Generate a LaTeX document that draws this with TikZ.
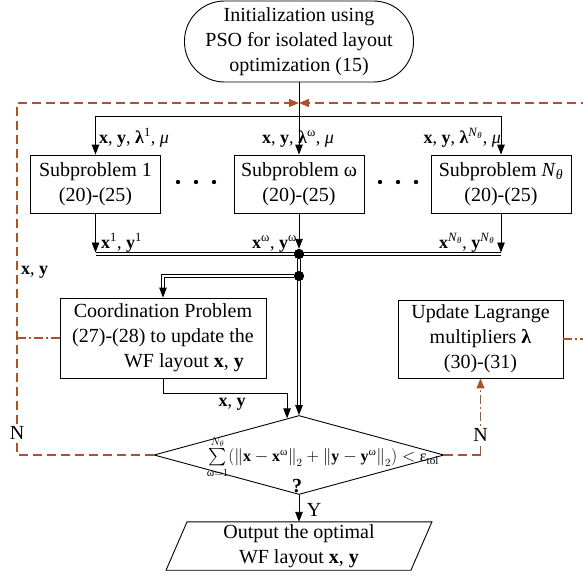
\documentclass[tikz,border=0pt]{standalone}
\usepackage{amsmath}
\usepackage{fontspec}
\setmainfont{Liberation Serif}
\setmathrm{Liberation Serif}
\usetikzlibrary{arrows.meta,calc,shapes.geometric}
\definecolor{brn}{RGB}{172,82,40}
\begin{document}
\begin{tikzpicture}[x=1pt,y=-1pt,
  every node/.style={font=\fontsize{20}{25}\selectfont},
  box/.style={draw,line width=0.9pt,inner sep=0pt,align=center},
  ln/.style={line width=0.9pt},
  arr/.style={line width=0.9pt,-{Triangle[length=10pt,width=7.5pt]}},
  dbl/.style={line width=0.9pt,double=white,double distance=2.4pt},
  brd/.style={color=brn,line width=1.3pt,dash pattern=on 9pt off 5pt},
  brdd/.style={color=brn,line width=1.3pt,dash pattern=on 9pt off 3pt on 2pt off 3pt},
  btip/.style={-{Triangle[length=10pt,width=8pt]}},
  lbl/.style={font=\fontsize{18}{20}\selectfont,inner sep=0pt},
  jdot/.style={circle,fill=black,minimum size=10pt,inner sep=0pt},
]
\useasboundingbox (0,0) rectangle (583,578);

% nodes
\node[box,rounded corners=40pt,minimum width=229pt,minimum height=81pt] (init) at (299,41.5)
  {Initialization using\\PSO for isolated layout\\optimization (15)};
\node[box,minimum width=130pt,minimum height=58pt] (sub1) at (95.5,184) {Subproblem 1\\(20)-(25)};
\node[box,minimum width=130pt,minimum height=58pt] (sub2) at (299,184) {Subproblem ω\\(20)-(25)};
\node[box,minimum width=140pt,minimum height=58pt] (sub3) at (501,184)
  {Subproblem \textit{N}\textsubscript{\textit{θ}}\\(20)-(25)};
\node[box,minimum width=206pt,minimum height=80pt] (coord) at (163,338)
  {Coordination Problem\\(27)-(28) to update the\\\hspace*{42pt}WF layout \textbf{x}, \textbf{y}};
\node[box,minimum width=165pt,minimum height=78pt] (upd) at (480.5,339)
  {Update Lagrange\\multipliers \textbf{λ}\\(30)-(31)};
\node[draw,diamond,line width=0.9pt,minimum width=290pt,minimum height=79pt,inner sep=0pt] (dec) at (299,455) {};
\node[inner sep=0pt,font=\fontsize{16}{18}\selectfont] (form) at (323,457)
  {$\sum\limits_{\text{ω}=1}^{N_\theta}\!\left(\left\|\mathbf{x}-\mathbf{x}^{\text{ω}}\right\|_2+\left\|\mathbf{y}-\mathbf{y}^{\text{ω}}\right\|_2\right)<\text{ε}_{\text{tol}}$};
\node[inner sep=0pt,font=\fontsize{20}{22}\selectfont\bfseries] (q) at (297,486) {?};
\node[inner sep=0pt,minimum width=244.5pt,minimum height=48pt,align=center] (out) at (299,546)
  {Output the optimal\\WF layout \textbf{x}, \textbf{y}};
\draw[ln] ($(out.north west)+(10.5,0)$) -- ($(out.north east)+(10.5,0)$)
  -- ($(out.south east)+(-10.5,0)$) -- ($(out.south west)+(-10.5,0)$) -- cycle;

% coordinates
\coordinate (tm) at (299,103);
\coordinate (lft) at (17,103);
\coordinate (rgt) at (592,103);
\coordinate (split) at (299,116);
\coordinate (bus) at (299,254);
\coordinate (dtl) at ($(dec.north)!0.082!(dec.west)$);

% brown feedback loops
\draw[brdd] (coord.west) -- (lft |- coord.west);
\draw[brd,btip] (dec.west) -| (lft) -- (tm);
\draw[brdd] (upd.east) -- (rgt |- upd.east);
\draw[brd,btip] (rgt |- upd.east) -- (rgt) -- (tm);
\draw[brd] (dec.east) -- (upd.south |- dec.east);
\draw[brdd,btip] (upd.south |- dec.east) -- (upd.south);

% top distribution
\draw[arr] (init.south) -- (sub2.north);
\draw[arr] (split) -| (sub1.north);
\draw[arr] (split) -| (sub3.north);

% ellipses
\foreach \xx in {178,196,214,380,398,416} \fill (\xx,182) circle (2.2pt);

% bus
\draw[dbl] (sub1.south |- bus) -- (sub3.south |- bus);
\draw[arr,shorten >=1.5pt] (sub1.south) -- (sub1.south |- bus);
\draw[arr,shorten >=1.5pt] (sub3.south) -- (sub3.south |- bus);
\node[jdot] (j1) at (bus) {};
\node[jdot] (j2) at (299,276) {};
\draw[dbl] (j2) -| ($(coord.north)+(0,-9)$);
\draw[arr] ($(coord.north)+(0,-10)$) -- (coord.north);
\draw[dbl] (j1) -- ($(dec.north)+(0,-9)$);
\draw[arr] ($(dec.north)+(0,-10)$) -- (dec.north);
\node[jdot] at (j1) {};
\node[jdot] at (j2) {};
\draw[arr] (sub2.south) -- (j1.north);

% coordination to decision
\draw[arr] (coord.south) |- ($(dtl)+(0,-25)$) -- (dtl);

% decision to output
\draw[arr] (dec.south) -- (out.north);

% labels
\node[lbl,anchor=base west] at (99,143) {\textbf{x}, \textbf{y}, \textbf{λ}\textsuperscript{1}, \textit{μ}};
\node[lbl,anchor=base west] at (262,143) {\textbf{x}, \textbf{y}, \textbf{λ}\textsuperscript{ω}, \textit{μ}};
\node[lbl,anchor=base east] at (501,143) {\textbf{x}, \textbf{y}, \textbf{λ}\textsuperscript{\textit{N}\textsubscript{\textit{θ}}}, \textit{μ}};
\node[lbl,anchor=base west] at (101,248) {\textbf{x}\textsuperscript{1}, \textbf{y}\textsuperscript{1}};
\node[lbl,anchor=base east] at (297,248) {\textbf{x}\textsuperscript{ω}, \textbf{y}\textsuperscript{ω}};
\node[lbl,anchor=base east] at (495,248) {\textbf{x}\textsuperscript{\textit{N}\textsubscript{\textit{θ}}}, \textbf{y}\textsuperscript{\textit{N}\textsubscript{\textit{θ}}}};
\node[lbl,anchor=west] at (21,272) {\textbf{x}, \textbf{y}};
\node[lbl] at (232,404) {\textbf{x}, \textbf{y}};
\node[fill=white,inner sep=1pt] at (17,433) {N};
\node[fill=white,inner sep=1pt] at (480.5,435) {N};
\node[inner sep=0pt] at (314,510) {Y};
\end{tikzpicture}
\end{document}
